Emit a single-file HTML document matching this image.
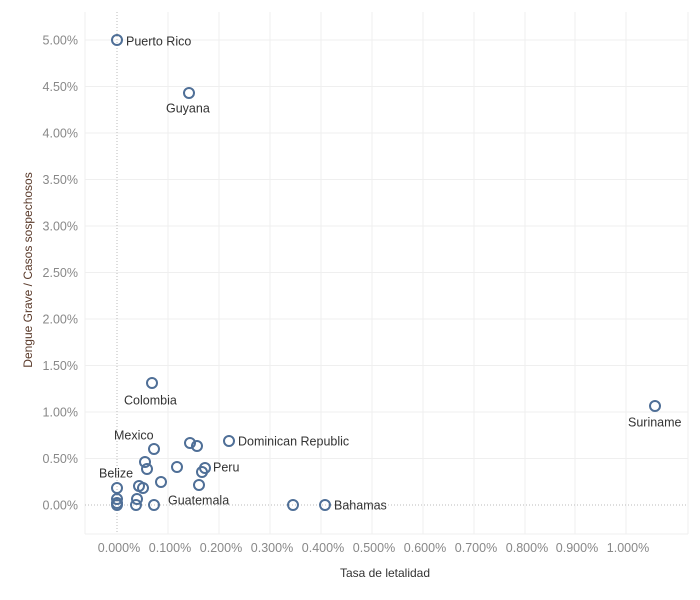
<!DOCTYPE html>
<html><head><meta charset="utf-8"><style>
body{margin:0;background:#fff;}
svg{display:block;font-family:"Liberation Sans",sans-serif;}
.t{font-size:12.5px;fill:#888;}
.l{font-size:12.5px;fill:#333;}
.g{stroke:#efefef;stroke-width:1;}
circle{fill:none;stroke:#4f6f97;stroke-width:2;}
</style></head><body>
<svg width="700" height="600">
<g>
<line class="g" x1="85" y1="12" x2="85" y2="534"/>
<line class="g" x1="688" y1="12" x2="688" y2="534"/>
<line class="g" x1="85" y1="534" x2="688" y2="534"/>
<line class="g" x1="168" y1="12" x2="168" y2="534"/>
<line class="g" x1="219" y1="12" x2="219" y2="534"/>
<line class="g" x1="270" y1="12" x2="270" y2="534"/>
<line class="g" x1="321" y1="12" x2="321" y2="534"/>
<line class="g" x1="372" y1="12" x2="372" y2="534"/>
<line class="g" x1="423" y1="12" x2="423" y2="534"/>
<line class="g" x1="474" y1="12" x2="474" y2="534"/>
<line class="g" x1="525" y1="12" x2="525" y2="534"/>
<line class="g" x1="575" y1="12" x2="575" y2="534"/>
<line class="g" x1="626" y1="12" x2="626" y2="534"/>
<line class="g" x1="85" y1="40" x2="688" y2="40"/>
<line class="g" x1="85" y1="86.5" x2="688" y2="86.5"/>
<line class="g" x1="85" y1="133" x2="688" y2="133"/>
<line class="g" x1="85" y1="179.5" x2="688" y2="179.5"/>
<line class="g" x1="85" y1="226" x2="688" y2="226"/>
<line class="g" x1="85" y1="272.5" x2="688" y2="272.5"/>
<line class="g" x1="85" y1="319" x2="688" y2="319"/>
<line class="g" x1="85" y1="365.5" x2="688" y2="365.5"/>
<line class="g" x1="85" y1="412" x2="688" y2="412"/>
<line class="g" x1="85" y1="458.5" x2="688" y2="458.5"/>
<line x1="85" y1="505" x2="688" y2="505" stroke="#bbb" stroke-dasharray="1,2"/>
<line x1="117" y1="12" x2="117" y2="534" stroke="#bbb" stroke-dasharray="1,2"/>
</g>
<g class="t" text-anchor="end">
<text x="78" y="44.5">5.00%</text><text x="78" y="91">4.50%</text><text x="78" y="137.5">4.00%</text>
<text x="78" y="184">3.50%</text><text x="78" y="230.5">3.00%</text><text x="78" y="277">2.50%</text>
<text x="78" y="323.5">2.00%</text><text x="78" y="370">1.50%</text><text x="78" y="416.5">1.00%</text>
<text x="78" y="463">0.50%</text><text x="78" y="509.5">0.00%</text>
</g>
<g class="t" text-anchor="middle">
<text x="119" y="552">0.000%</text><text x="170" y="552">0.100%</text><text x="221" y="552">0.200%</text>
<text x="272" y="552">0.300%</text><text x="323" y="552">0.400%</text><text x="374" y="552">0.500%</text>
<text x="425" y="552">0.600%</text><text x="476" y="552">0.700%</text><text x="527" y="552">0.800%</text>
<text x="577" y="552">0.900%</text><text x="628" y="552">1.000%</text>
</g>
<text x="385" y="577" text-anchor="middle" style="font-size:12px;fill:#333">Tasa de letalidad</text>
<text transform="translate(32,270) rotate(-90)" text-anchor="middle" style="font-size:12px;fill:#5a3a2a">Dengue Grave / Casos sospechosos</text>
<g>
<circle cx="117" cy="40" r="5"/><circle cx="189" cy="93" r="5"/><circle cx="152" cy="383" r="5"/>
<circle cx="655" cy="406" r="5"/><circle cx="154" cy="449" r="5"/><circle cx="190" cy="443" r="5"/>
<circle cx="197" cy="446" r="5"/><circle cx="229" cy="441" r="5"/><circle cx="145" cy="462" r="5"/>
<circle cx="147" cy="469" r="5"/><circle cx="177" cy="467" r="5"/><circle cx="205" cy="468" r="5"/>
<circle cx="202" cy="472" r="5"/><circle cx="161" cy="482" r="5"/><circle cx="199" cy="485" r="5"/>
<circle cx="117" cy="488" r="5"/><circle cx="139" cy="486" r="5"/><circle cx="143" cy="488" r="5"/>
<circle cx="117" cy="499" r="5"/><circle cx="137" cy="499" r="5"/><circle cx="117" cy="503" r="5"/>
<circle cx="117" cy="505" r="5"/><circle cx="136" cy="505" r="5"/><circle cx="154" cy="505" r="5"/>
<circle cx="293" cy="505" r="5"/><circle cx="325" cy="505" r="5"/>
</g>
<g class="l">
<text x="126" y="45.5">Puerto Rico</text>
<text x="166" y="112.5">Guyana</text>
<text x="124" y="404.5">Colombia</text>
<text x="628" y="426.5">Suriname</text>
<text x="114" y="439.5">Mexico</text>
<text x="238" y="445.5">Dominican Republic</text>
<text x="213" y="471.5">Peru</text>
<text x="99" y="477.5">Belize</text>
<text x="168" y="504.5">Guatemala</text>
<text x="334" y="509.5">Bahamas</text>
</g>
</svg>
</body></html>
